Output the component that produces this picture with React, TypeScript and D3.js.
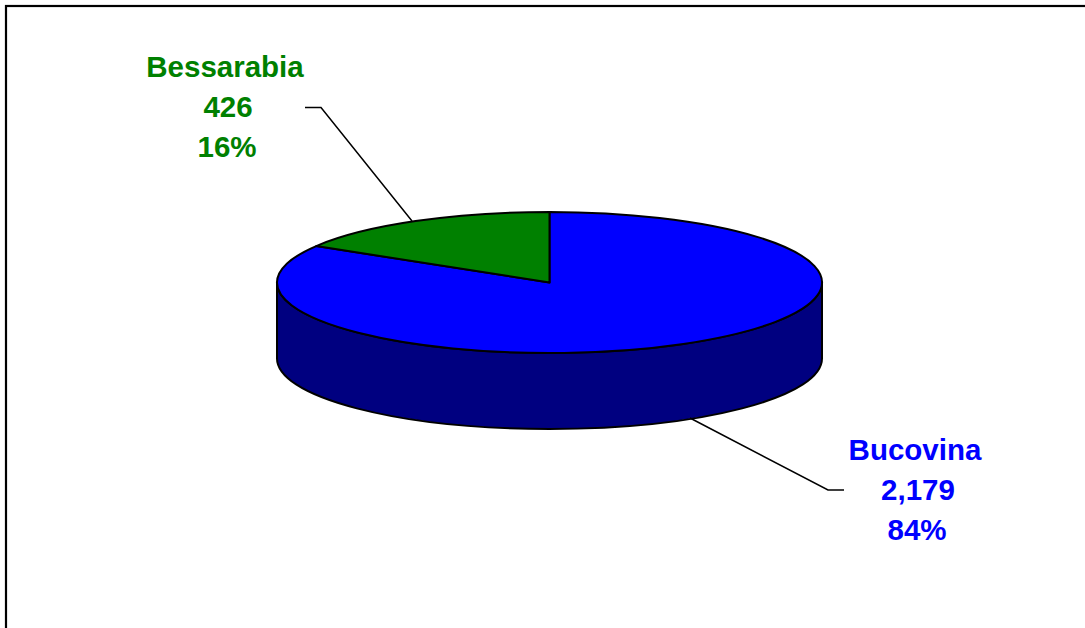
import React from "react";
import * as d3 from "d3";

const categories = ["Bucovina", "Bessarabia"];
const values = [2179, 426];
const topColors = ["#0000FF", "#008000"];
const sideColors = ["#000080", "#004000"];
const labelColors = ["#0000FF", "#008000"];

const W = 1085;
const H = 628;
const cx = 549.5;
const cy = 282.5;
const rx = 272.5;
const ry = 70.5;
const depth = 76;

function pt(a: number, dy = 0): [number, number] {
  return [cx + rx * Math.sin(a), cy - ry * Math.cos(a) + dy];
}

export default function App() {
  const pie = d3.pie<number>().sort(null).value((d) => d);
  const arcs = pie(values);
  const total = d3.sum(values);
  const fmt = d3.format(",");

  const sides: JSX.Element[] = [];
  const tops: JSX.Element[] = [];
  arcs.forEach((a, i) => {
    const s = Math.max(a.startAngle, Math.PI / 2);
    const e = Math.min(a.endAngle, (3 * Math.PI) / 2);
    if (e > s) {
      const p1 = pt(s);
      const p2 = pt(e);
      const p3 = pt(e, depth);
      const p4 = pt(s, depth);
      const large = e - s > Math.PI ? 1 : 0;
      const d = `M${p1[0]},${p1[1]} A${rx},${ry} 0 ${large} 1 ${p2[0]},${p2[1]} L${p3[0]},${p3[1]} A${rx},${ry} 0 ${large} 0 ${p4[0]},${p4[1]} Z`;
      sides.push(
        <path key={"s" + i} d={d} fill={sideColors[i]} stroke="#000" strokeWidth={2} strokeLinejoin="round" />
      );
    }
    const p1 = pt(a.startAngle);
    const p2 = pt(a.endAngle);
    const large = a.endAngle - a.startAngle > Math.PI ? 1 : 0;
    const d = `M${cx},${cy} L${p1[0]},${p1[1]} A${rx},${ry} 0 ${large} 1 ${p2[0]},${p2[1]} Z`;
    tops.push(
      <path key={"t" + i} d={d} fill={topColors[i]} stroke="#000" strokeWidth={2} strokeLinejoin="round" />
    );
  });

  const labels = [
    { x: 915, y: 460, line: [[690, 418], [828, 490], [844, 490]] },
    { x: 225, y: 77, line: [[412, 221], [321, 107.5], [305, 107.5]] },
  ];

  return (
    <svg
      width={W}
      height={H}
      style={{ position: "absolute", left: 0, top: 0, background: "#fff" }}
    >
      <rect x={0} y={0} width={W} height={H} fill="#fff" />
      <rect x={6} y={6} width={1200} height={800} fill="none" stroke="#000" strokeWidth={2.2} />
      {sides}
      {tops}
      {labels.map((l, i) => (
        <g key={i}>
          <polyline
            points={l.line.map((p) => p.join(",")).join(" ")}
            fill="none"
            stroke="#000"
            strokeWidth={1.5}
          />
          <text
            x={l.x}
            y={l.y}
            textAnchor="middle"
            fill={labelColors[i]}
            fontFamily="'Liberation Sans', Arial, sans-serif"
            fontWeight="bold"
            fontSize={29.5}
          >
            <tspan x={l.x} y={l.y}>{categories[i]}</tspan>
            <tspan x={l.x + 3} y={l.y + 40}>{fmt(values[i])}</tspan>
            <tspan x={l.x + 2} y={l.y + 80}>{Math.round((values[i] / total) * 100) + "%"}</tspan>
          </text>
        </g>
      ))}
    </svg>
  );
}
